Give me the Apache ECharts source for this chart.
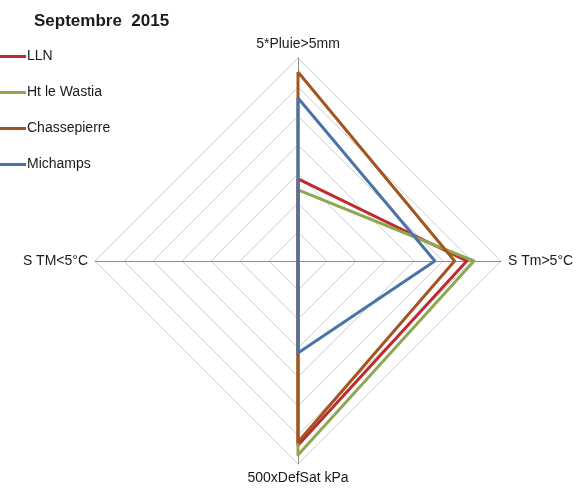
<!DOCTYPE html>
<html><head><meta charset="utf-8">
<script src="https://cdn.jsdelivr.net/npm/echarts@6/dist/echarts.min.js"></script>
<style>html,body{margin:0;padding:0;background:#fff}#c{width:579px;height:489px}</style>
</head><body><div id="c"></div>
<script>
const indicatorNames = ['5*Pluie>5mm', 'S TM<5°C', '500xDefSat kPa', 'S Tm>5°C'];
const seriesNames = ['LLN', 'Ht le Wastia', 'Chassepierre', 'Michamps'];
const LLN = [28.3, 0, 63.5, 58.2];
const HtLeWastia = [24.5, 0, 66.9, 60.7];
const Chassepierre = [65.2, 0, 62.4, 54.0];
const Michamps = [56.2, 0, 31.7, 47.2];
const values = [LLN, HtLeWastia, Chassepierre, Michamps];
const colors = ['#BE2A2E', '#8DA851', '#A5541F', '#4A73A6'];
const maxVal = 70;

const chart = echarts.init(document.getElementById('c'), null, {renderer: 'canvas'});
chart.setOption({
  animation: false,
  title: {text: 'Septembre  2015', left: 29, top: 8,
    textStyle: {fontFamily: 'Liberation Sans', fontSize: 17, fontWeight: 'bold', color: '#1a1a1a'}},
  legend: {
    orient: 'vertical', left: 0, top: 48, padding: 0,
    itemWidth: 26, itemHeight: 3, itemGap: 19, icon: 'rect',
    textStyle: {fontFamily: 'Liberation Sans', fontSize: 14, lineHeight: 17, color: '#1a1a1a', padding: [0,0,0,-4]},
    data: seriesNames
  },
  radar: {
    center: [298, 261], radius: 203, shape: 'polygon', splitNumber: 7, startAngle: 90,
    indicator: indicatorNames.map(n => ({name: n, max: maxVal, min: 0})),
    axisName: {color: '#1a1a1a', fontFamily: 'Liberation Sans', fontSize: 14},
    nameGap: 7,
    axisLine: {lineStyle: {color: '#8c8c8c', width: 1}},
    splitLine: {lineStyle: {color: '#cfcfcf', width: 1}},
    splitArea: {show: false}
  },
  series: [{
    type: 'radar',
    symbol: 'none',
    data: values.map((v, i) => ({
      name: seriesNames[i], value: v,
      lineStyle: {color: colors[i], width: 3},
      itemStyle: {color: colors[i]}
    }))
  }]
});
</script></body></html>
